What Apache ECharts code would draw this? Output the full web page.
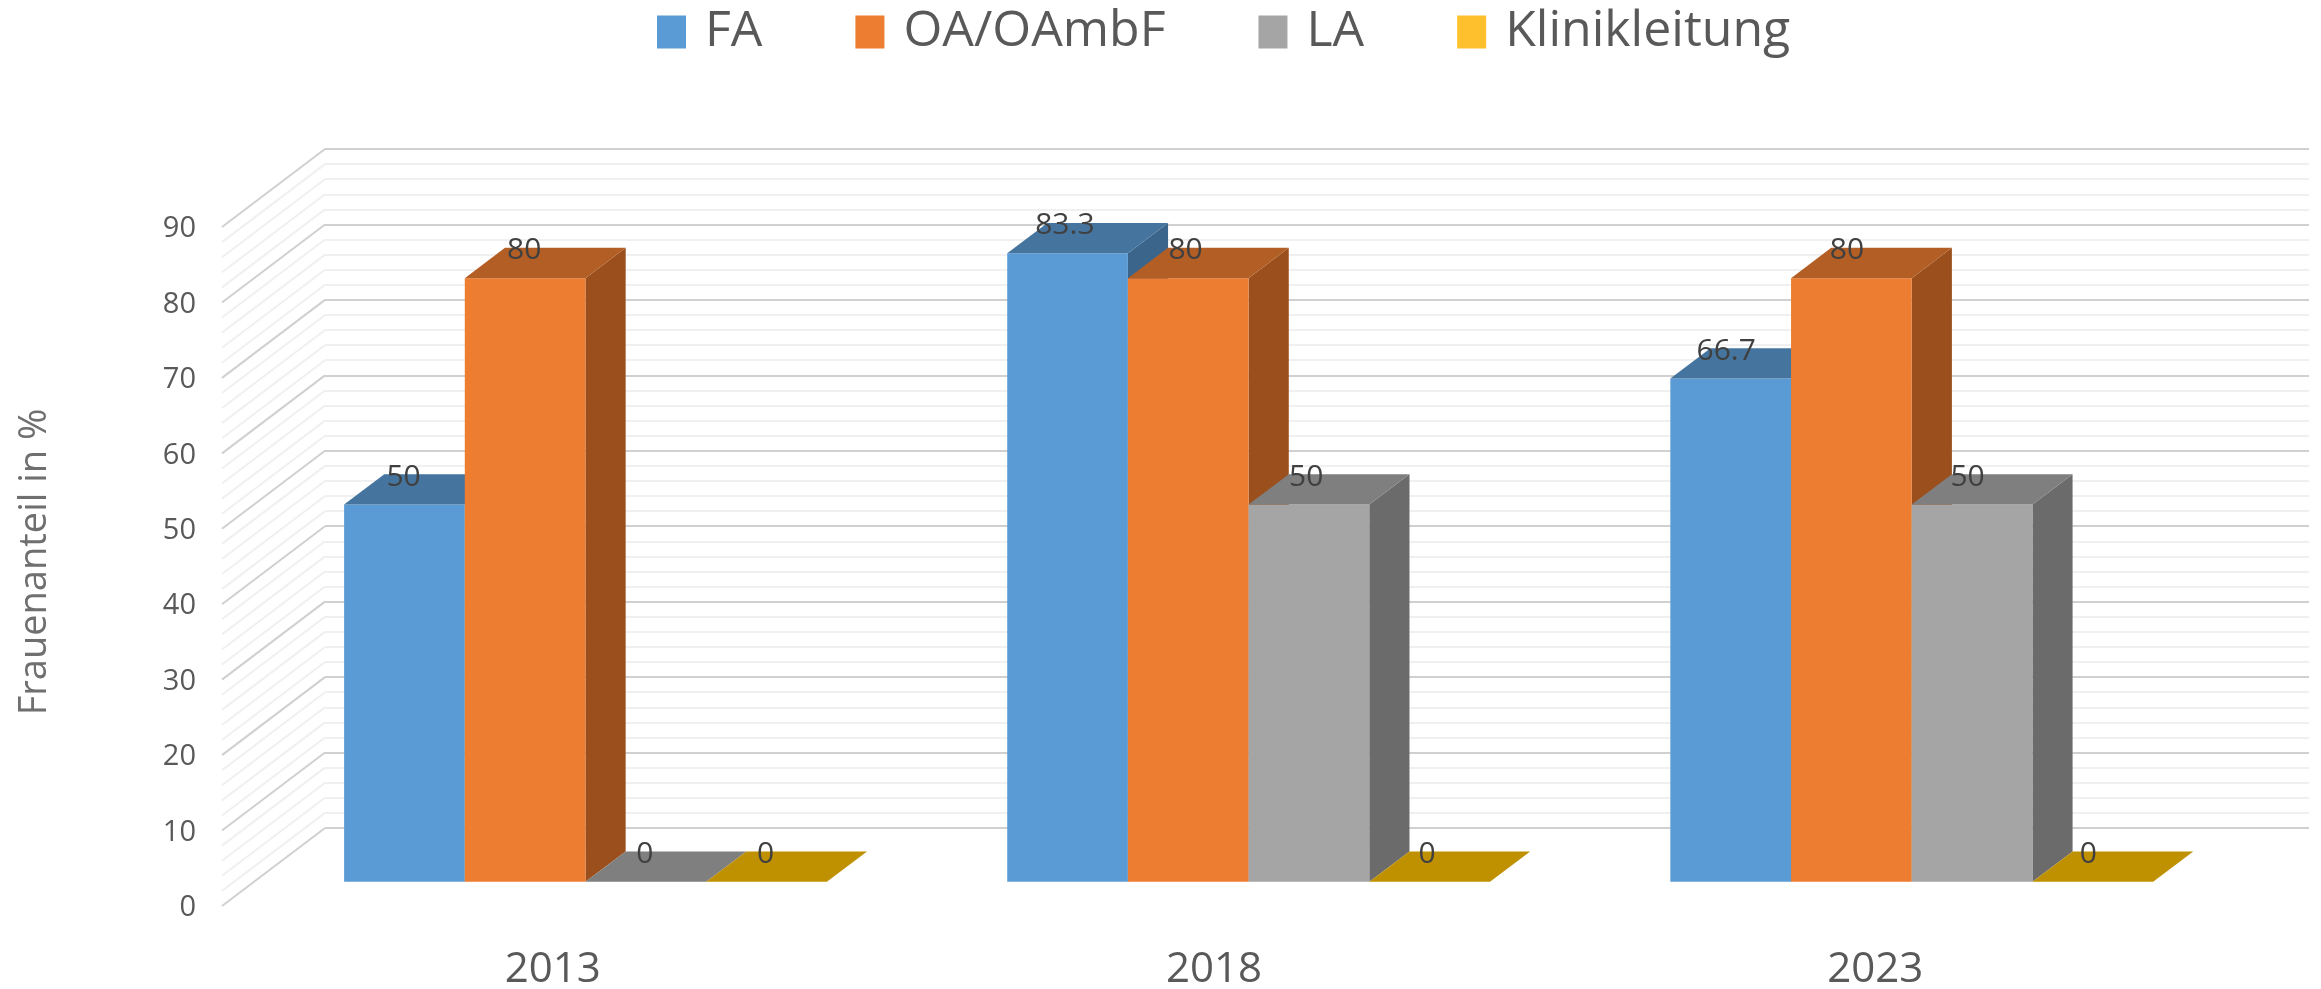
<!DOCTYPE html>
<html>
<head>
<meta charset="utf-8">
<style>
html, body { margin: 0; padding: 0; background: #fff; }
#main { width: 2321px; height: 989px; }
</style>
<script src="https://cdn.jsdelivr.net/npm/echarts@6/dist/echarts.min.js"></script>
</head>
<body>
<div id="main"></div>
<script>
const categories = ['2013', '2018', '2023'];
const faValues = [50, 83.3, 66.7];
const oaValues = [80, 80, 80];
const laValues = [0, 50, 50];
const klinikValues = [0, 0, 0];
const wallTicks = [0, 2, 4, 6, 8, 10, 12, 14, 16, 18, 20, 22, 24, 26, 28, 30, 32, 34, 36, 38, 40, 42, 44, 46, 48, 50,
    52, 54, 56, 58, 60, 62, 64, 66, 68, 70, 72, 74, 76, 78, 80, 82, 84, 86, 88, 90];

const FONT = '"Open Sans", "Noto Sans", sans-serif';
// Tiefe des Diagramms: Vorderkante liegt so weit links/unten von der Rueckwand
const DEPTH_X = 103;
const DEPTH_Y = 78;
const BAR_FRONT = 0.31;
const BAR_BACK = 0.70;
const BAR_RATIO = 0.1825;
// Balkenebene ist minimal breiter als die Rueckwand
const BAR_SPREAD = 1.0027;

const barSeries = [
    { name: 'FA', values: faValues, front: '#5b9bd5', top: '#45759f', side: '#3b658a', slot: -2 },
    { name: 'OA/OAmbF', values: oaValues, front: '#ed7d31', top: '#b35e24', side: '#9a4f1c', slot: -1 },
    { name: 'LA', values: laValues, front: '#a5a5a5', top: '#7f7f7f', side: '#6b6b6b', slot: 0 },
    { name: 'Klinikleitung', values: klinikValues, front: '#ffc02d', top: '#bf9000', side: '#a67c00', slot: 1 },
];

function polygon(points, color, z2) {
    return { type: 'polygon', shape: { points: points }, style: { fill: color }, z2: z2 || 0 };
}

function renderBar(conf) {
    return function (params, api) {
        const value = api.value(1);
        const top = api.coord([api.value(0), value]);
        const base = api.coord([api.value(0), 0]);
        const w = api.size([1, 0])[0] * BAR_RATIO;
        const gridX = params.coordSys.x;
        const labelX = top[0] - DEPTH_X * (1 - BAR_FRONT) + conf.slot * w + w / 2;
        const fx = gridX + (top[0] - gridX) * BAR_SPREAD - DEPTH_X * (1 - BAR_FRONT) + conf.slot * w;
        const fy = top[1] + DEPTH_Y * (1 - BAR_FRONT);
        const by = base[1] + DEPTH_Y * (1 - BAR_FRONT);
        const dx = DEPTH_X * (BAR_BACK - BAR_FRONT);
        const dy = DEPTH_Y * (BAR_BACK - BAR_FRONT);
        return {
            type: 'group',
            children: [
                polygon([[fx + w, fy], [fx + w + dx, fy - dy], [fx + w + dx, by - dy], [fx + w, by]], conf.side),
                polygon([[fx, by], [fx + w, by], [fx + w, fy], [fx, fy]], conf.front),
                polygon([[fx, fy], [fx + w, fy], [fx + w + dx, fy - dy], [fx + dx, fy - dy]], conf.top),
                {
                    type: 'text',
                    z2: 100,
                    style: {
                        x: labelX,
                        y: fy - dy + 3,
                        text: String(value),
                        fill: '#404040',
                        font: '30px ' + FONT,
                        align: 'center',
                        verticalAlign: 'middle',
                    },
                },
            ],
        };
    };
}

function renderWall(params, api) {
    const v = api.value(1);
    const p = api.coord([0, v]);
    const x = params.coordSys.x;
    return {
        type: 'line',
        shape: { x1: x, y1: p[1], x2: x - DEPTH_X, y2: p[1] + DEPTH_Y },
        style: { stroke: v % 10 === 0 ? '#d0d0d0' : '#f0f0f0', lineWidth: 2 },
    };
}

const chart = echarts.init(document.getElementById('main'));
chart.setOption({
    backgroundColor: '#fff',
    animation: false,
    legend: {
        data: barSeries.map(s => s.name),
        top: 7,
        left: 657,
        padding: 0,
        icon: 'rect',
        itemWidth: 29,
        itemHeight: 33,
        itemGap: 93,
        textStyle: { fontFamily: FONT, fontSize: 50, color: '#595959', padding: [0, 0, 0, 14] },
    },
    // grid 0 = Rueckwand mit den Balken, grid 1 = Vorderkante mit den Beschriftungen
    grid: [
        { left: 325, top: 149, width: 1984, height: 679, outerBoundsMode: 'none' },
        { left: 222, top: 229, width: 1984, height: 679, outerBoundsMode: 'none' },
    ],
    xAxis: [
        {
            type: 'category',
            gridIndex: 0,
            data: categories,
            axisLine: { show: false },
            axisTick: { show: false },
            axisLabel: { show: false },
        },
        {
            type: 'category',
            gridIndex: 1,
            data: categories,
            axisLine: { show: false },
            axisTick: { show: false },
            axisLabel: { fontFamily: FONT, fontSize: 42, color: '#595959', margin: 41 },
        },
    ],
    yAxis: [
        {
            type: 'value',
            gridIndex: 0,
            min: 0,
            max: 90,
            interval: 10,
            axisLine: { show: false },
            axisTick: { show: false },
            axisLabel: { show: false },
            splitLine: { show: true, lineStyle: { color: '#d0d0d0', width: 2 } },
            minorTick: { show: false, splitNumber: 5 },
            minorSplitLine: { show: true, lineStyle: { color: '#f0f0f0', width: 2 } },
        },
        {
            type: 'value',
            gridIndex: 1,
            min: 0,
            max: 90,
            interval: 10,
            name: 'Frauenanteil in %',
            nameLocation: 'middle',
            nameGap: 168,
            nameTextStyle: { fontFamily: FONT, fontSize: 38, color: '#6f6f6f', padding: [0, 0, 0, 13] },
            axisLine: { show: false },
            axisTick: { show: false },
            axisLabel: { fontFamily: FONT, fontSize: 29, color: '#595959', margin: 26 },
            splitLine: { show: false },
        },
    ],
    series: [
        {
            type: 'custom',
            name: 'wall',
            silent: true,
            renderItem: renderWall,
            data: wallTicks.map(v => [0, v]),
        },
    ].concat(barSeries.map(s => ({
        type: 'custom',
        name: s.name,
        itemStyle: { color: s.front },
        renderItem: renderBar(s),
        data: s.values.map((v, i) => [i, v]),
    }))),
});
window.addEventListener('resize', () => chart.resize());
</script>
</body>
</html>
